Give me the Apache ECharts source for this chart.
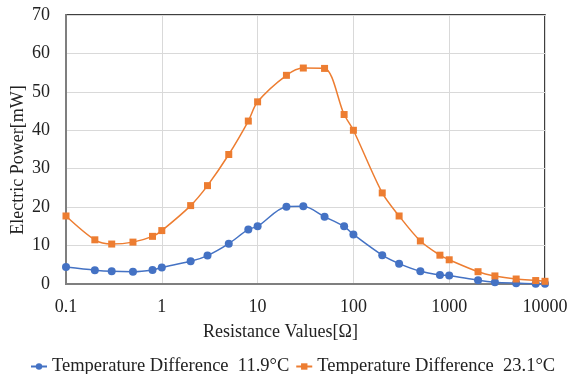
<!DOCTYPE html>
<html>
<head>
<meta charset="utf-8">
<script src="https://cdn.jsdelivr.net/npm/echarts@6/dist/echarts.min.js"></script>
<style>html,body{margin:0;padding:0;background:#fff;}#c{width:569px;height:374px;}</style>
</head>
<body>
<div id="c"></div>
<script>
const resistance = [0.1, 0.2, 0.3, 0.5, 0.8, 1, 2, 3, 5, 8, 10, 20, 30, 50, 80, 100, 200, 300, 500, 800, 1000, 2000, 3000, 5000, 8000, 10000];
const power119 = [4.4, 3.6, 3.3, 3.2, 3.65, 4.3, 5.9, 7.4, 10.5, 14.2, 15.0, 20.1, 20.2, 17.5, 15.0, 12.9, 7.5, 5.3, 3.3, 2.35, 2.2, 0.97, 0.45, 0.2, 0.05, 0.05];
const power231 = [17.7, 11.5, 10.4, 10.9, 12.4, 13.9, 20.4, 25.6, 33.7, 42.4, 47.4, 54.3, 56.2, 56.1, 44.1, 40.0, 23.7, 17.7, 11.2, 7.5, 6.3, 3.2, 2.1, 1.3, 0.9, 0.7];
const seriesNames = ['Temperature Difference  11.9\u00b0C', 'Temperature Difference  23.1\u00b0C'];
const xTickLabels = ['0.1', '1', '10', '100', '1000', '10000'];

const font = 'Liberation Serif';
const chart = echarts.init(document.getElementById('c'));
const pair = (xs, ys) => xs.map((x, i) => [x, ys[i]]);
chart.setOption({
  animation: false,
  grid: { left: 66, right: 24, top: 15, bottom: 90, outerBoundsMode: 'none', containLabel: false,
    show: true, borderColor: '#000', borderWidth: 1.5, backgroundColor: 'transparent' },
  xAxis: {
    type: 'log', logBase: 10, min: 0.1, max: 10000,
    name: 'Resistance Values[\u03a9]', nameLocation: 'middle', nameGap: 39, nameMoveOverlap: false,
    nameTextStyle: { fontFamily: font, fontSize: 18, color: '#222', padding: [0, 50, 0, 0] },
    axisLine: { lineStyle: { color: '#7f7f7f', width: 2 } },
    axisTick: { show: false },
    axisLabel: { fontFamily: font, fontSize: 18, color: '#222', margin: 14,
      formatter: v => { const s = xTickLabels.find(t => Math.abs(Number(t) - v) / v < 1e-6); return s || ''; } },
    splitLine: { show: true, lineStyle: { color: '#d9d9d9', width: 1 } },
    minorTick: { show: false }
  },
  yAxis: {
    type: 'value', min: 0, max: 70, interval: 10,
    name: 'Electric Power[mW]', nameLocation: 'middle', nameGap: 39, nameMoveOverlap: false,
    nameTextStyle: { fontFamily: font, fontSize: 18, color: '#222', padding: [0, 21, 0, 0] },
    axisLine: { show: true, lineStyle: { color: '#7f7f7f', width: 2 } },
    axisTick: { show: false },
    axisLabel: { fontFamily: font, fontSize: 18, color: '#222', margin: 16 },
    splitLine: { show: true, lineStyle: { color: '#d9d9d9', width: 1 } }
  },
  legend: {
    left: 25, top: 352, itemGap: 6, itemWidth: 16, itemHeight: 8,
    textStyle: { fontFamily: font, fontSize: 18.5, color: '#222' },
    data: seriesNames
  },
  series: [
    { name: seriesNames[0], type: 'line', data: pair(resistance, power119), smooth: 0.3,
      symbol: 'circle', symbolSize: 8, color: '#4472C4', lineStyle: { width: 1.5 } },
    { name: seriesNames[1], type: 'line', data: pair(resistance, power231), smooth: 0.3,
      symbol: 'rect', symbolSize: 7, color: '#ED7D31', lineStyle: { width: 1.5 } }
  ]
});
</script>
</body>
</html>
